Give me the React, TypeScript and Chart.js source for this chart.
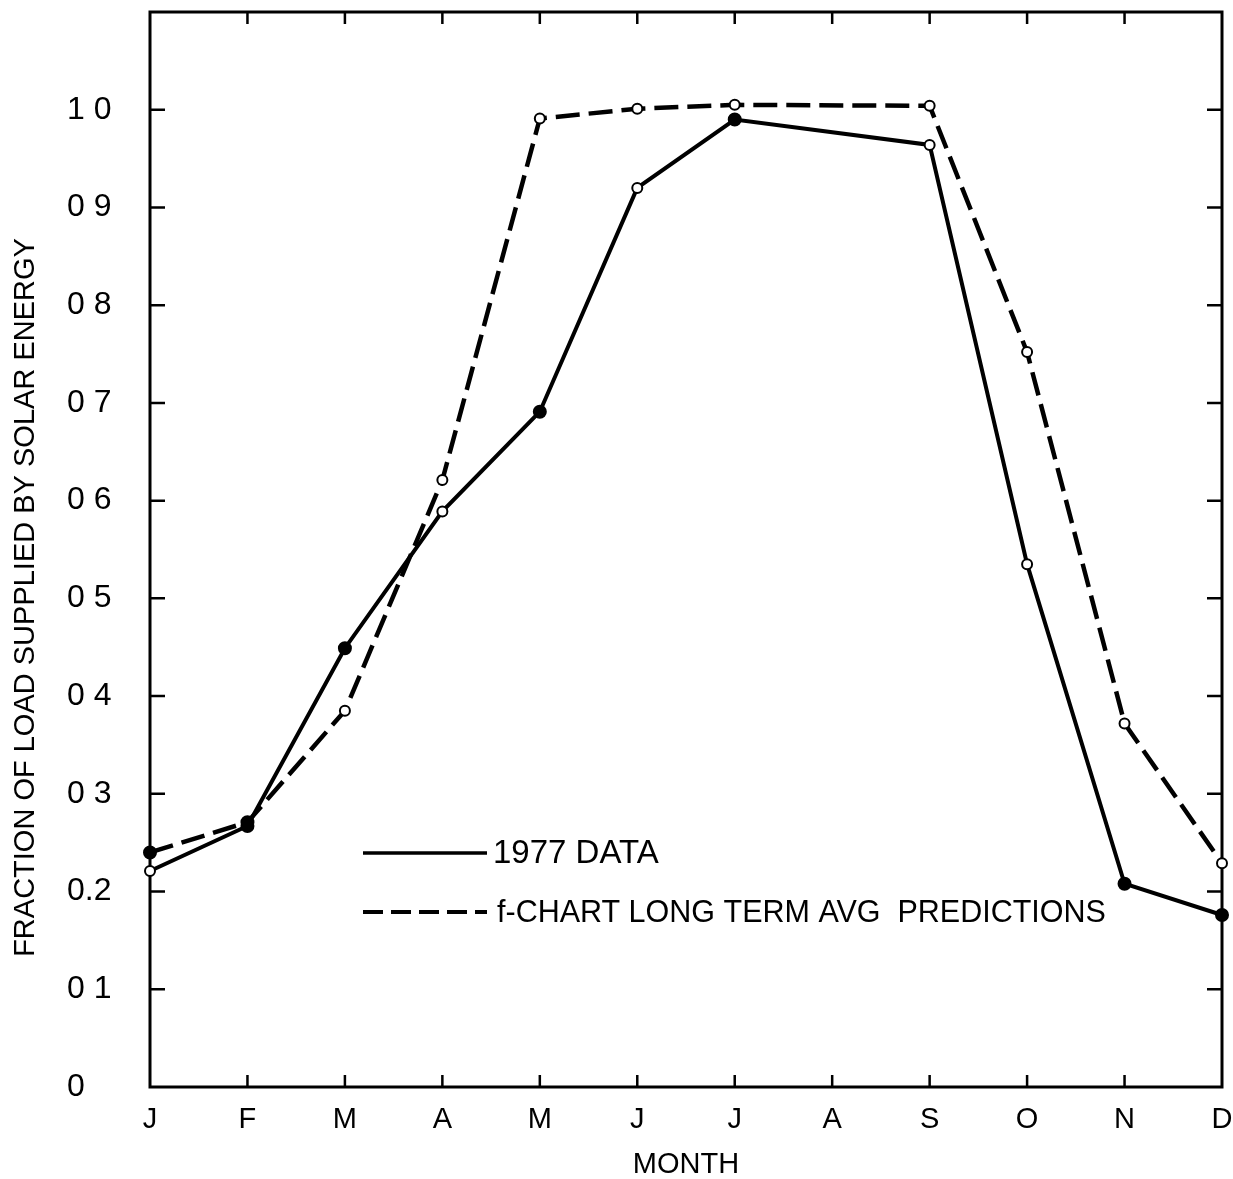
import React, { useEffect, useRef } from 'react';
import { Chart, registerables } from 'chart.js';

Chart.register(...registerables);

const months = ['J', 'F', 'M', 'A', 'M', 'J', 'J', 'A', 'S', 'O', 'N', 'D'];
const data1977 = [0.221, 0.267, 0.449, 0.589, 0.691, 0.92, 0.99, null, 0.964, 0.535, 0.208, 0.176];
const fChartPred = [0.24, 0.271, 0.385, 0.621, 0.991, 1.001, 1.005, null, 1.004, 0.752, 0.372, 0.229];
const filled1977 = [false, true, true, false, true, false, true, false, false, false, true, true];
const filledPred = [true, true, false, false, false, false, false, false, false, false, false, false];
const yTickLabels = ['0', '0 1', '0.2', '0 3', '0 4', '0 5', '0 6', '0 7', '0 8', '0 9', '1 0'];
const legendLabels = ['1977 DATA', 'f-CHART LONG TERM AVG  PREDICTIONS'];
const xTitle = 'MONTH';
const yTitle = 'FRACTION OF LOAD SUPPLIED BY SOLAR ENERGY';

const FONT = '"Liberation Sans", Arial, Helvetica, sans-serif';

const framePlugin = {
  id: 'frame',
  beforeDatasetsDraw(chart: any) {
    const { ctx, chartArea, scales } = chart;
    const { left, right, top, bottom } = chartArea;
    const x = scales.x;
    const y = scales.y;
    ctx.save();
    ctx.strokeStyle = '#000';
    ctx.lineWidth = 3;
    ctx.strokeRect(left, top, right - left, bottom - top);
    ctx.lineWidth = 2.5;
    ctx.beginPath();
    y.ticks.forEach((t: any) => {
      if (t.value > 1.05 || t.value < 0.05) return;
      const py = y.getPixelForValue(t.value);
      ctx.moveTo(left, py);
      ctx.lineTo(left + 15, py);
      ctx.moveTo(right, py);
      ctx.lineTo(right - 15, py);
    });
    months.forEach((_, i) => {
      if (i === 0 || i === months.length - 1) return;
      const px = x.getPixelForValue(i);
      ctx.moveTo(px, top);
      ctx.lineTo(px, top + 12);
      ctx.moveTo(px, bottom);
      ctx.lineTo(px, bottom - 12);
    });
    ctx.stroke();
    ctx.restore();
  },
  afterDraw(chart: any) {
    const { ctx, chartArea } = chart;
    const { left, top, bottom } = chartArea;
    ctx.save();
    ctx.fillStyle = '#000';
    ctx.translate(26, (top + bottom) / 2 + 48);
    ctx.rotate(-Math.PI / 2);
    ctx.font = `29px ${FONT}`;
    ctx.textAlign = 'center';
    ctx.textBaseline = 'middle';
    ctx.fillText(yTitle, 0, 0);
    ctx.restore();

    ctx.save();
    ctx.strokeStyle = '#000';
    ctx.fillStyle = '#000';
    const lx0 = left + 213;
    const lx1 = left + 337;
    const ly0 = top + 841;
    const ly1 = top + 900;
    ctx.lineWidth = 3.5;
    ctx.beginPath();
    ctx.moveTo(lx0, ly0);
    ctx.lineTo(lx1, ly0);
    ctx.stroke();
    ctx.lineWidth = 4;
    ctx.setLineDash([20, 8]);
    ctx.beginPath();
    ctx.moveTo(lx0, ly1);
    ctx.lineTo(lx1, ly1);
    ctx.stroke();
    ctx.setLineDash([]);
    ctx.textAlign = 'left';
    ctx.textBaseline = 'middle';
    ctx.font = `33px ${FONT}`;
    ctx.fillText(legendLabels[0], lx1 + 6, ly0 + 1);
    ctx.font = `30.5px ${FONT}`;
    ctx.fillText(legendLabels[1], lx1 + 10, ly1 + 2);
    ctx.restore();
  },
};

export default function App() {
  const ref = useRef<HTMLCanvasElement | null>(null);

  useEffect(() => {
    if (!ref.current) return;
    const chart = new Chart(ref.current, {
      type: 'line',
      data: {
        labels: months,
        datasets: [
          {
            label: legendLabels[0],
            data: data1977 as any,
            borderColor: '#000',
            borderWidth: 4,
            pointRadius: filled1977.map((f) => (f ? 6 : 5)),
            pointBorderWidth: 2,
            pointBorderColor: '#000',
            pointBackgroundColor: filled1977.map((f) => (f ? '#000' : '#fff')),
            spanGaps: true,
            tension: 0,
            clip: false as any,
          },
          {
            label: legendLabels[1],
            data: fChartPred as any,
            borderColor: '#000',
            borderWidth: 4.5,
            borderDash: [24, 9],
            pointRadius: filledPred.map((f) => (f ? 6 : 5)),
            pointBorderWidth: 2,
            pointBorderColor: '#000',
            pointBackgroundColor: filledPred.map((f) => (f ? '#000' : '#fff')),
            spanGaps: true,
            tension: 0,
            clip: false as any,
          },
        ],
      },
      options: {
        responsive: false,
        maintainAspectRatio: false,
        devicePixelRatio: 1,
        animation: false,
        layout: { padding: { left: 67, right: 11, top: 12, bottom: 0 } },
        plugins: {
          legend: { display: false },
          tooltip: { enabled: false },
        },
        scales: {
          x: {
            type: 'category',
            offset: false,
            grid: { display: false },
            border: { display: false },
            ticks: {
              color: '#000',
              font: { family: FONT, size: 29 },
              padding: 8,
              maxRotation: 0,
              autoSkip: false,
            },
            title: {
              display: true,
              text: xTitle,
              color: '#000',
              font: { family: FONT, size: 29, lineHeight: 1 },
              padding: { top: 0, bottom: 0 },
            },
            afterFit: (s: any) => {
              s.height = 92;
              s.paddingLeft = 0;
              s.paddingRight = 0;
            },
          },
          y: {
            min: 0,
            max: 1.1,
            grid: { display: false },
            border: { display: false },
            ticks: {
              stepSize: 0.1,
              color: '#000',
              crossAlign: 'far',
              font: { family: FONT, size: 32 },
              callback: (v: any) => {
                const i = Math.round(Number(v) * 10);
                return i < yTickLabels.length ? yTickLabels[i] : null;
              },
            },
            afterFit: (s: any) => {
              s.width = 83;
              s.paddingTop = 0;
              s.paddingBottom = 0;
            },
          },
        },
      },
      plugins: [framePlugin],
    });
    return () => chart.destroy();
  }, []);

  return (
    <div style={{ position: 'absolute', left: 0, top: 0, width: 1233, height: 1179, background: '#fff' }}>
      <canvas ref={ref} width={1233} height={1179} style={{ display: 'block' }} />
    </div>
  );
}
